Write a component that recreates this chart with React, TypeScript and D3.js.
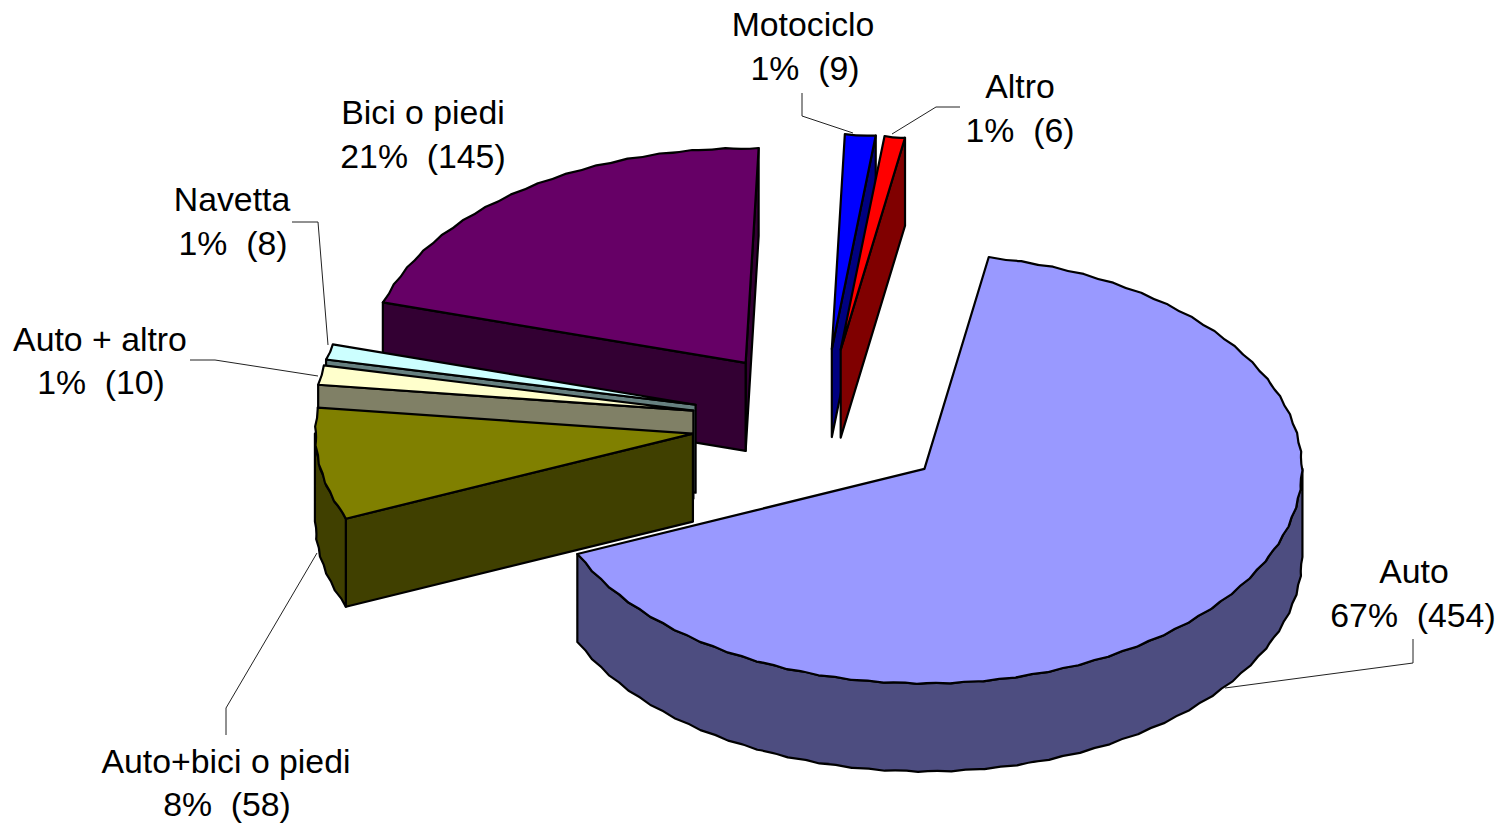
import React from "react";
import * as d3 from "d3";

const categories = ["Auto", "Auto+bici o piedi", "Auto + altro", "Navetta", "Bici o piedi", "Motociclo", "Altro"];
const counts = [454, 58, 10, 8, 145, 9, 6];
const percents = ["67%", "8%", "1%", "1%", "21%", "1%", "1%"];
const topColors = ["#9999FF", "#808000", "#FFFFCC", "#CCFFFF", "#660066", "#0000FF", "#FF0000"];
const sideColors = ["#4D4D80", "#404000", "#808066", "#668080", "#330033", "#000080", "#800000"];
const paintOrder = [5, 6, 4, 3, 2, 1, 0];

const W = 1499, H = 823;
const CX = 822, CY = 423, RX = 378, RY = 215, DEPTH = 88, EXPLODE = 0.345;
const START = (9.8 * Math.PI) / 180;
const FONT = 33.8;

const sx = d3.scaleLinear().domain([-1, 1]).range([-RX, RX]);
const sy = d3.scaleLinear().domain([-1, 1]).range([-RY, RY]);
const px = (a: number) => sx(Math.sin(a));
const py = (a: number) => sy(-Math.cos(a));

const arcs = d3.pie<number>().sort(null).startAngle(START).endAngle(START + 2 * Math.PI)(counts);

// walks an elliptical arc with the slightly scalloped edge of the original rendering
function arcTo(p: d3.Path, x0: number, y0: number, a0: number, a1: number) {
  const step = (5 * Math.PI) / 180;
  const n = Math.max(1, Math.round(Math.abs(a1 - a0) / step));
  let lx = x0 + px(a0), ly = y0 + py(a0);
  for (let i = 1; i <= n; i++) {
    const a = a0 + ((a1 - a0) * i) / n;
    const x = x0 + px(a), y = y0 + py(a);
    const mid = a - (a1 - a0) / n / 2;
    const mx = (lx + x) / 2, my = (ly + y) / 2;
    const k = 1.5;
    p.quadraticCurveTo(mx - Math.sin(mid) * k, my + Math.cos(mid) * k, x, y);
    lx = x; ly = y;
  }
}

function slicePaths(i: number) {
  const d = arcs[i];
  const a0 = d.startAngle, a1 = d.endAngle, mid = (a0 + a1) / 2;
  const ox = CX + EXPLODE * px(mid), oy = CY + EXPLODE * py(mid);
  const walls: string[] = [];
  const face = (a: number) => {
    const p = d3.path();
    p.moveTo(ox, oy);
    p.lineTo(ox + px(a), oy + py(a));
    p.lineTo(ox + px(a), oy + py(a) + DEPTH);
    p.lineTo(ox, oy + DEPTH);
    p.closePath();
    return p.toString();
  };
  if (Math.sin(a1) > 0) walls.push(face(a1));
  if (Math.sin(a0) < 0) walls.push(face(a0));
  const lo = Math.max(a0, Math.PI / 2), hi = Math.min(a1, (3 * Math.PI) / 2);
  if (hi > lo) {
    const p = d3.path();
    p.moveTo(ox + px(lo), oy + py(lo));
    arcTo(p, ox, oy, lo, hi);
    p.lineTo(ox + px(hi), oy + py(hi) + DEPTH);
    arcTo(p, ox, oy + DEPTH, hi, lo);
    p.closePath();
    walls.push(p.toString());
  }
  const t = d3.path();
  t.moveTo(ox, oy);
  t.lineTo(ox + px(a0), oy + py(a0));
  arcTo(t, ox, oy, a0, a1);
  t.closePath();
  return { walls, top: t.toString() };
}

const labelCenters: [number, number, number, number][] = [
  [1414, 583, 1413, 627],
  [226, 773, 227, 816],
  [100, 351, 101, 394],
  [232, 211, 233, 255],
  [423, 124, 423, 168],
  [803, 36, 805, 80],
  [1020, 98, 1020, 142],
];
const leaders: [number, number][][] = [
  [[1413, 639], [1413, 663], [1225, 688]],
  [[226, 735], [226, 708], [317, 553]],
  [[190, 360], [215, 360], [318, 376]],
  [[292, 222], [318, 222], [328, 345]],
  [],
  [[802, 93], [802, 116], [853, 133]],
  [[960, 107], [936, 107], [892, 134]],
];
const line = d3.line();

export default function App() {
  return (
    <svg width={W} height={H} viewBox={`0 0 ${W} ${H}`} style={{ position: "absolute", left: 0, top: 0, display: "block", background: "#fff" }}>
      {paintOrder.map((i) => {
        const s = slicePaths(i);
        return (
          <g key={categories[i]} stroke="#000" strokeWidth={2.2} strokeLinejoin="round">
            {s.walls.map((w, j) => <path key={j} d={w} fill={sideColors[i]} />)}
            <path d={s.top} fill={topColors[i]} />
          </g>
        );
      })}
      {leaders.map((l, i) => l.length ? <path key={i} d={line(l) || ""} fill="none" stroke="#222" strokeWidth={1} /> : null)}
      <g fontFamily="'Liberation Sans', Arial, sans-serif" fontSize={FONT} fill="#000" textAnchor="middle">
        {categories.map((c, i) => {
          const [x1, y1, x2, y2] = labelCenters[i];
          return (
            <g key={c}>
              <text x={x1} y={y1}>{c}</text>
              <text x={x2} y={y2} xmlSpace="preserve" style={{ whiteSpace: "pre" }}>{`${percents[i]}  (${counts[i]})`}</text>
            </g>
          );
        })}
      </g>
    </svg>
  );
}
